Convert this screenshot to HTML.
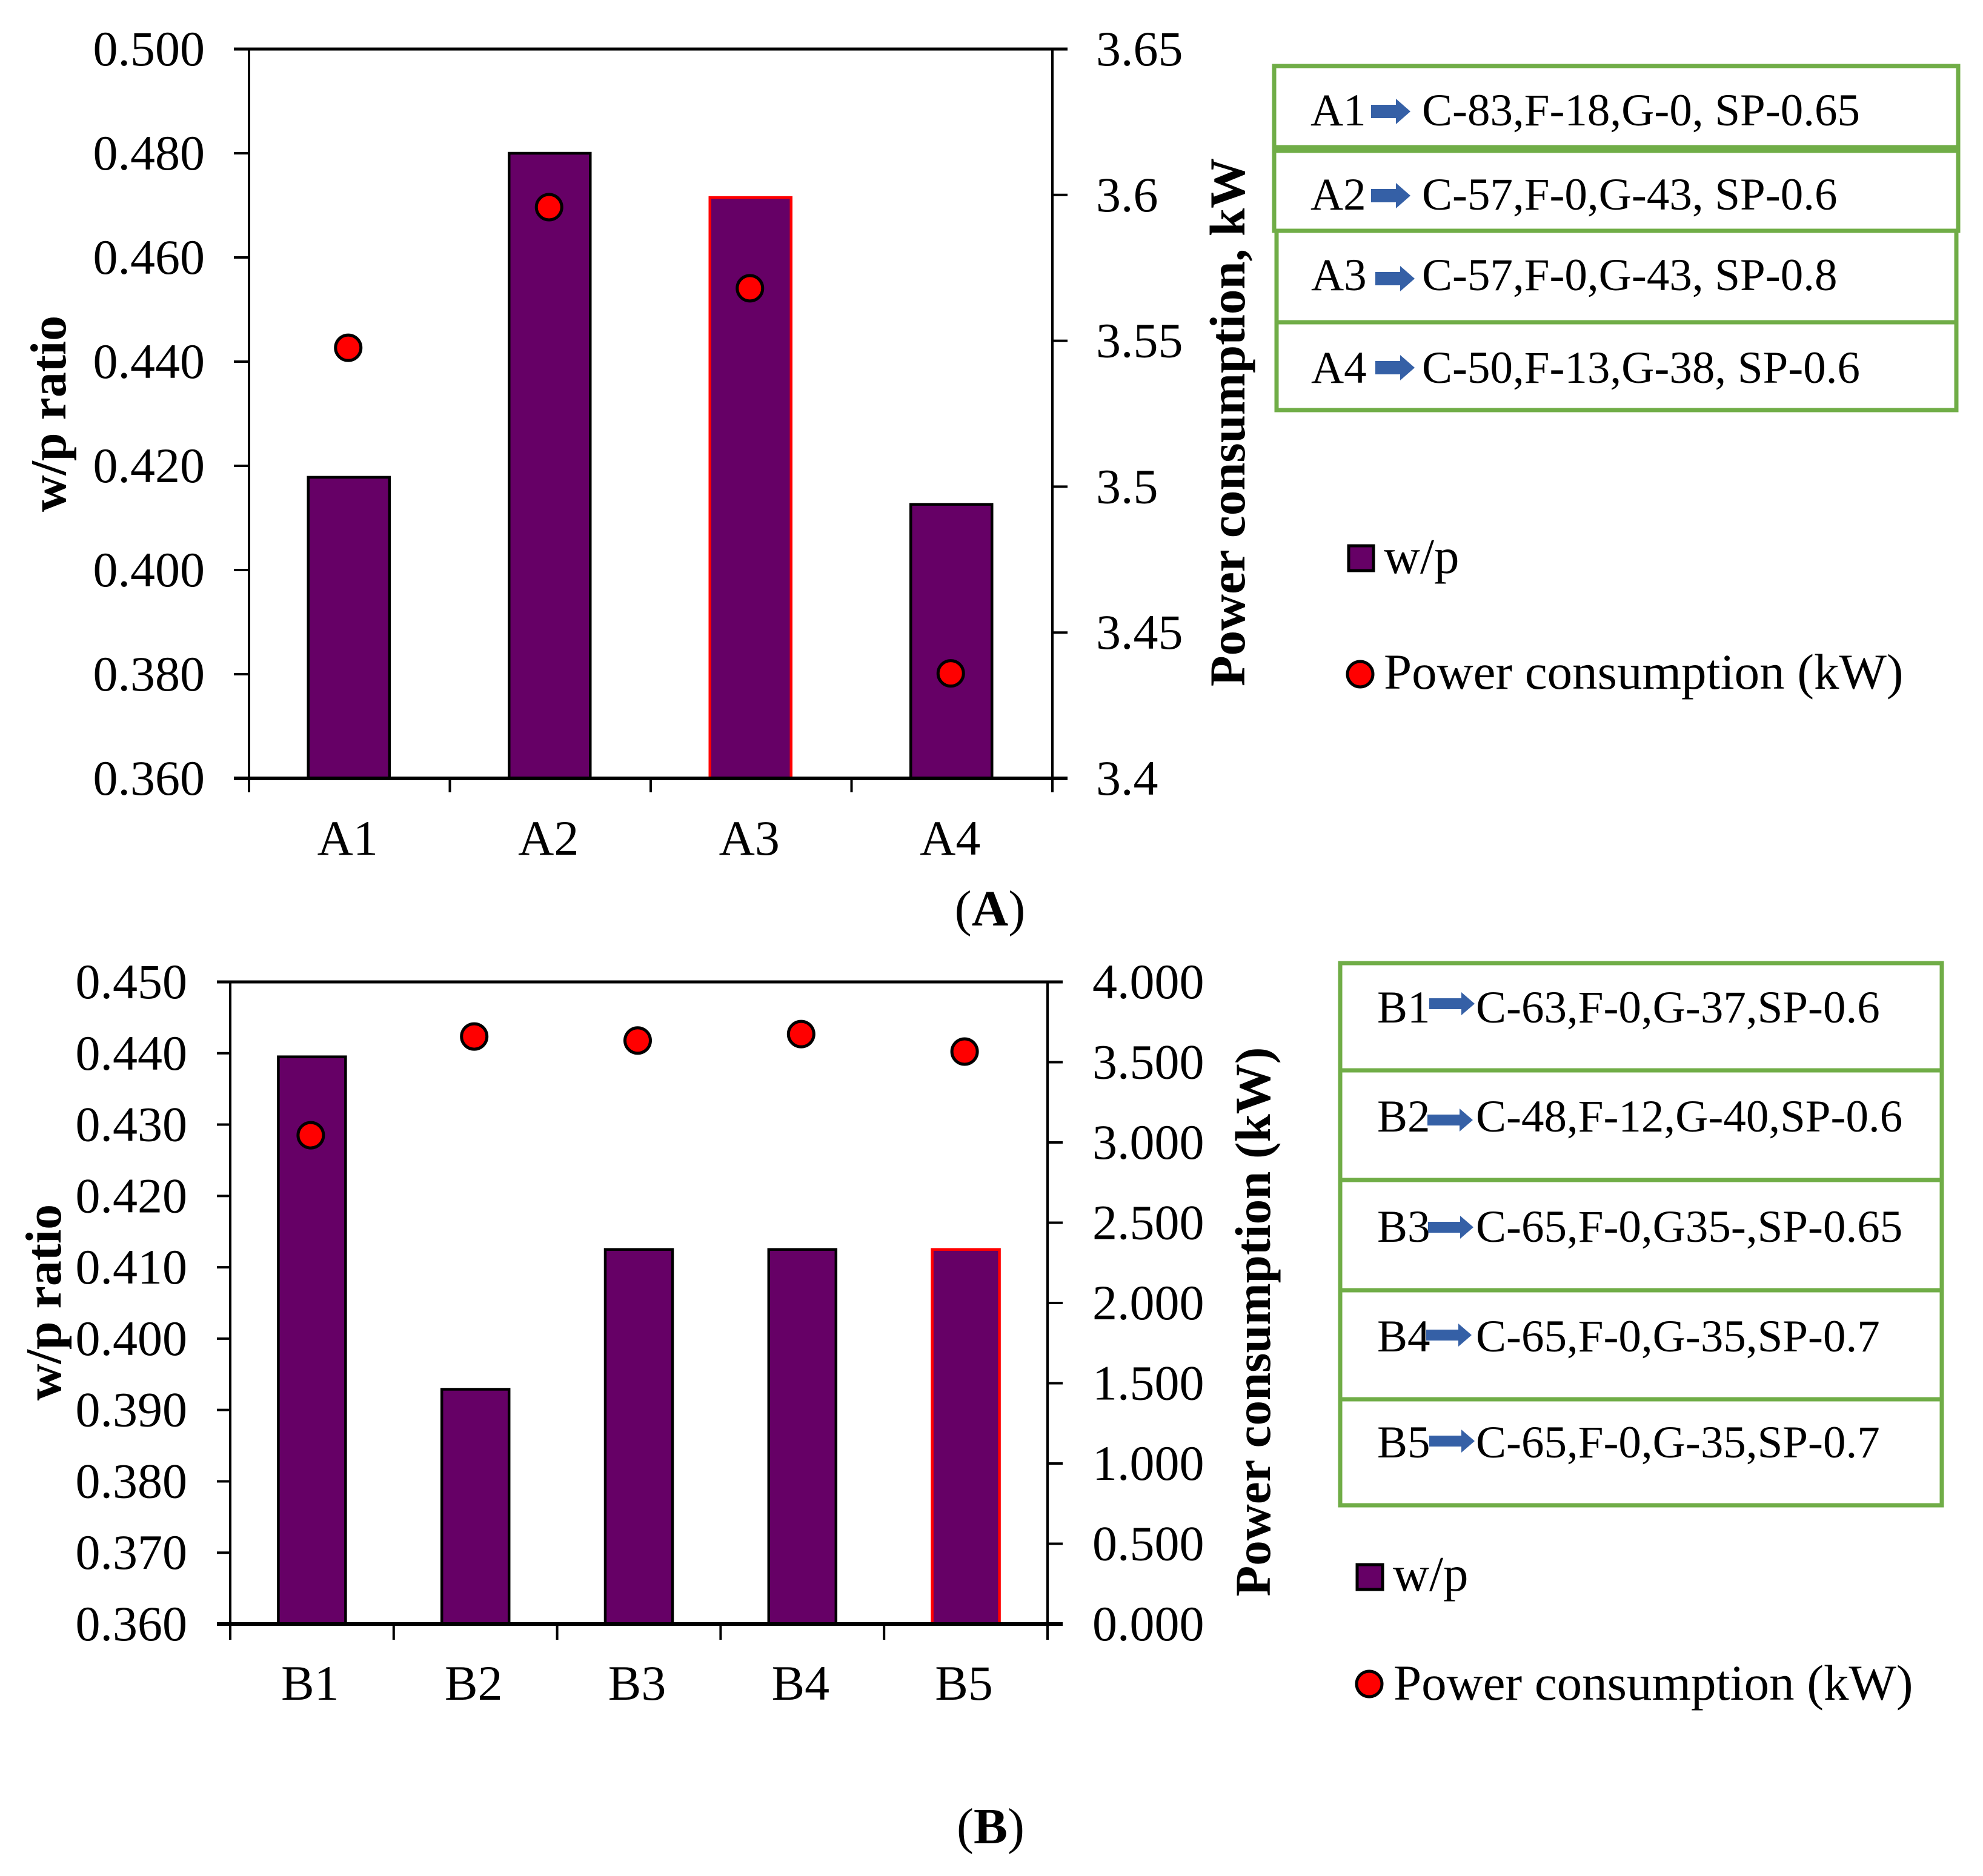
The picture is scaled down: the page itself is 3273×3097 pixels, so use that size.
<!DOCTYPE html>
<html lang="en">
<head>
<meta charset="utf-8">
<title>w/p ratio and power consumption</title>
<style>
html,body{margin:0;padding:0;background:#fff;}
svg{display:block;}
text{font-family:"Liberation Serif",serif;fill:#000;}
</style>
</head>
<body>
<svg id="figure" xmlns="http://www.w3.org/2000/svg" width="3273" height="3097" viewBox="0 0 3273 3097">
  <rect x="0" y="0" width="3273" height="3097" fill="#fff"/>
  <g id="chartA"></g>
  <g id="chartB"></g>

  <text x="1634" y="1528" font-size="84" text-anchor="middle">(<tspan font-weight="bold">A</tspan>)</text>
  <text x="1635" y="3043" font-size="84" text-anchor="middle">(<tspan font-weight="bold">B</tspan>)</text>

  <g fill="#fff" stroke="#70AD47" stroke-width="7">
    <rect x="2103" y="109" width="1129" height="134"/>
    <rect x="2103" y="249" width="1129" height="132"/>
    <rect x="2107" y="381" width="1122" height="151"/>
    <rect x="2107" y="532" width="1122" height="145"/>
  </g>
  <g fill="#3560A6">
    <polygon points="2263,173 2304,173 2304,163 2328,184 2304,205 2304,195 2263,195"/>
    <polygon points="2263,312 2304,312 2304,302 2328,323 2304,344 2304,334 2263,334"/>
    <polygon points="2270,449 2311,449 2311,439 2335,460 2311,481 2311,471 2270,471"/>
    <polygon points="2270,596 2311,596 2311,586 2335,607 2311,628 2311,618 2270,618"/>
  </g>
  <g font-size="75">
    <text x="2163" y="207">A1</text>
    <text x="2347" y="207">C-83,F-18,G-0, SP-0.65</text>
    <text x="2163" y="346">A2</text>
    <text x="2347" y="346">C-57,F-0,G-43, SP-0.6</text>
    <text x="2164" y="479">A3</text>
    <text x="2347" y="479">C-57,F-0,G-43, SP-0.8</text>
    <text x="2164" y="632">A4</text>
    <text x="2347" y="632">C-50,F-13,G-38, SP-0.6</text>
  </g>

  <g>
    <rect x="2226" y="901" width="41" height="41" fill="#660066" stroke="#000" stroke-width="5"/>
    <text x="2284" y="946" font-size="83">w/p</text>
    <circle cx="2245" cy="1113" r="21" fill="#f00" stroke="#000" stroke-width="5"/>
    <text x="2284" y="1137" font-size="83">Power consumption (kW)</text>
  </g>

  <g fill="#fff" stroke="#70AD47" stroke-width="7">
    <rect x="2212" y="1590" width="993" height="177"/>
    <rect x="2212" y="1767" width="993" height="181"/>
    <rect x="2212" y="1948" width="993" height="182"/>
    <rect x="2212" y="2130" width="993" height="180"/>
    <rect x="2212" y="2310" width="993" height="175"/>
  </g>
  <g fill="#3560A6">
    <polygon points="2359,1648 2412,1648 2412,1638 2434,1657 2412,1676 2412,1666 2359,1666"/>
    <polygon points="2356,1840 2409,1840 2409,1830 2431,1849 2409,1868 2409,1858 2356,1858"/>
    <polygon points="2357,2017 2410,2017 2410,2007 2432,2026 2410,2045 2410,2035 2357,2035"/>
    <polygon points="2354,2195 2407,2195 2407,2185 2429,2204 2407,2223 2407,2213 2354,2213"/>
    <polygon points="2359,2370 2412,2370 2412,2360 2434,2379 2412,2398 2412,2388 2359,2388"/>
  </g>
  <g font-size="75">
    <text x="2273" y="1688">B1</text>
    <text x="2436" y="1688">C-63,F-0,G-37,SP-0.6</text>
    <text x="2273" y="1868">B2</text>
    <text x="2436" y="1868">C-48,F-12,G-40,SP-0.6</text>
    <text x="2273" y="2050">B3</text>
    <text x="2436" y="2050">C-65,F-0,G35-,SP-0.65</text>
    <text x="2273" y="2231">B4</text>
    <text x="2436" y="2231">C-65,F-0,G-35,SP-0.7</text>
    <text x="2273" y="2406">B5</text>
    <text x="2436" y="2406">C-65,F-0,G-35,SP-0.7</text>
  </g>

  <g>
    <rect x="2240" y="2583" width="42" height="41" fill="#660066" stroke="#000" stroke-width="5"/>
    <text x="2299" y="2626" font-size="83">w/p</text>
    <circle cx="2260" cy="2780" r="21" fill="#f00" stroke="#000" stroke-width="5"/>
    <text x="2300" y="2806" font-size="83">Power consumption (kW)</text>
  </g>
</svg>
<script>
// Chart A data
var categoriesA = ['A1', 'A2', 'A3', 'A4'];
var wpValuesA = [0.4178, 0.480, 0.4715, 0.4126];
var powerValuesA = [3.5476, 3.5958, 3.568, 3.436];
var leftTickLabelsA = ['0.360', '0.380', '0.400', '0.420', '0.440', '0.460', '0.480', '0.500'];
var rightTickLabelsA = ['3.4', '3.45', '3.5', '3.55', '3.6', '3.65'];
var highlightedA = ['A3'];

// Chart B data
var categoriesB = ['B1', 'B2', 'B3', 'B4', 'B5'];
var wpValuesB = [0.4395, 0.3929, 0.4125, 0.4125, 0.4125];
var powerValuesB = [3.045, 3.66, 3.635, 3.675, 3.566];
var leftTickLabelsB = ['0.360', '0.370', '0.380', '0.390', '0.400', '0.410', '0.420', '0.430', '0.440', '0.450'];
var rightTickLabelsB = ['0.000', '0.500', '1.000', '1.500', '2.000', '2.500', '3.000', '3.500', '4.000'];
var highlightedB = ['B5'];

var SVG_NS = 'http://www.w3.org/2000/svg';

function make(parent, tag, props, content) {
  var el = document.createElementNS(SVG_NS, tag);
  for (var k in props) { el.setAttribute(k, props[k]); }
  if (content !== undefined) { el.textContent = content; }
  parent.appendChild(el);
  return el;
}

function linearScale(labels, bottom, top) {
  var min = parseFloat(labels[0]);
  var max = parseFloat(labels[labels.length - 1]);
  return function (v) { return bottom - (v - min) / (max - min) * (bottom - top); };
}

function drawPanel(root, p) {
  var yLeft = linearScale(p.leftTicks, p.bottom, p.top);
  var yRight = linearScale(p.rightTicks, p.bottom, p.top);
  var band = (p.right - p.left) / p.categories.length;
  var xCenter = function (i) { return p.left + (i + 0.5) * band; };

  // bars
  p.wp.forEach(function (v, i) {
    var cat = p.categories[i];
    var isHi = p.highlighted.indexOf(cat) >= 0;
    var yTop = yLeft(v);
    var bar = make(root, 'rect', {
      x: xCenter(i) - p.barWidth / 2 + p.barShift, y: yTop, width: p.barWidth, height: p.bottom - yTop,
      fill: '#660066', stroke: isHi ? '#f00' : '#000', 'stroke-width': 4.5
    });
    
    
  });

  // axis lines
  var lines = [
    ['left-axis-line', p.left, p.top, p.left, p.bottom + p.tickLen, 4],
    ['right-axis-line', p.right, p.top, p.right, p.bottom + p.tickLen, 4],
    ['top-axis-line', p.left - p.leftTickLen, p.top, p.right + p.rightTickLen, p.top, 5],
    ['bottom-axis-line', p.left - p.leftTickLen, p.bottom, p.right + p.rightTickLen, p.bottom, 6]
  ];
  lines.forEach(function (l) {
    var ln = make(root, 'line', { x1: l[1], y1: l[2], x2: l[3], y2: l[4], stroke: '#000', 'stroke-width': l[5] });
    
    
  });

  // left ticks and labels
  p.leftTicks.forEach(function (label) {
    var y = yLeft(parseFloat(label));
    var tick = make(root, 'line', { x1: p.left - p.leftTickLen, y1: y, x2: p.left, y2: y, stroke: '#000', 'stroke-width': 4 });
    
    
    var txt = make(root, 'text', { x: p.leftLabelX, y: y + 27, 'font-size': 82, 'text-anchor': 'end' }, label);
    
    
  });

  // right ticks and labels
  p.rightTicks.forEach(function (label) {
    var y = yRight(parseFloat(label));
    var tick = make(root, 'line', { x1: p.right, y1: y, x2: p.right + p.rightTickLen, y2: y, stroke: '#000', 'stroke-width': 4 });
    
    
    var txt = make(root, 'text', { x: p.rightLabelX, y: y + 27, 'font-size': 82 }, label);
    
    
  });

  // x ticks and category labels
  for (var j = 1; j < p.categories.length; j++) {
    var tx = p.left + j * band;
    var xt = make(root, 'line', { x1: tx, y1: p.bottom, x2: tx, y2: p.bottom + p.tickLen, stroke: '#000', 'stroke-width': 4 });
    
    
  }
  p.categories.forEach(function (cat, i) {
    var c = make(root, 'text', { x: xCenter(i) - 3, y: p.catBaseline, 'font-size': 82, 'text-anchor': 'middle' }, cat);
    
    
  });

  // power markers
  p.power.forEach(function (v, i) {
    var dot = make(root, 'circle', {
      cx: xCenter(i) - 2, cy: yRight(v), r: 21, fill: '#f00', stroke: '#000', 'stroke-width': 5
    });
    
    
  });

  // axis titles
  var lt = make(root, 'text', {
    transform: 'translate(' + p.leftTitleX + ',' + p.leftTitleY + ') rotate(-90)',
    'font-size': 84, 'font-weight': 'bold', 'text-anchor': 'middle'
  }, 'w/p ratio');
  
  

  var rt = make(root, 'text', {
    transform: 'translate(' + p.rightTitleX + ',' + p.rightTitleY + ') rotate(-90)',
    'font-size': p.rightTitleSize, 'font-weight': 'bold', 'text-anchor': 'middle'
  }, p.rightTitle);
  
  
}

drawPanel(document.getElementById('chartA'), {
  categories: categoriesA, wp: wpValuesA, power: powerValuesA,
  leftTicks: leftTickLabelsA, rightTicks: rightTickLabelsA, highlighted: highlightedA,
  left: 411, right: 1737, top: 81, bottom: 1285, barWidth: 134, barShift: -1,
  tickLen: 23, leftTickLen: 25, rightTickLen: 25,
  leftLabelX: 338, rightLabelX: 1809, catBaseline: 1411,
  leftTitleX: 108, leftTitleY: 683,
  rightTitleX: 2054, rightTitleY: 697, rightTitleSize: 83, rightTitle: 'Power consumption, kW'
});

drawPanel(document.getElementById('chartB'), {
  categories: categoriesB, wp: wpValuesB, power: powerValuesB,
  leftTicks: leftTickLabelsB, rightTicks: rightTickLabelsB, highlighted: highlightedB,
  left: 380, right: 1729, top: 1621, bottom: 2681, barWidth: 111, barShift: 0,
  tickLen: 26, leftTickLen: 22, rightTickLen: 25,
  leftLabelX: 309, rightLabelX: 1803, catBaseline: 2806,
  leftTitleX: 100, leftTitleY: 2150,
  rightTitleX: 2096, rightTitleY: 2182, rightTitleSize: 83, rightTitle: 'Power consumption (kW)'
});
</script>
</body>
</html>
